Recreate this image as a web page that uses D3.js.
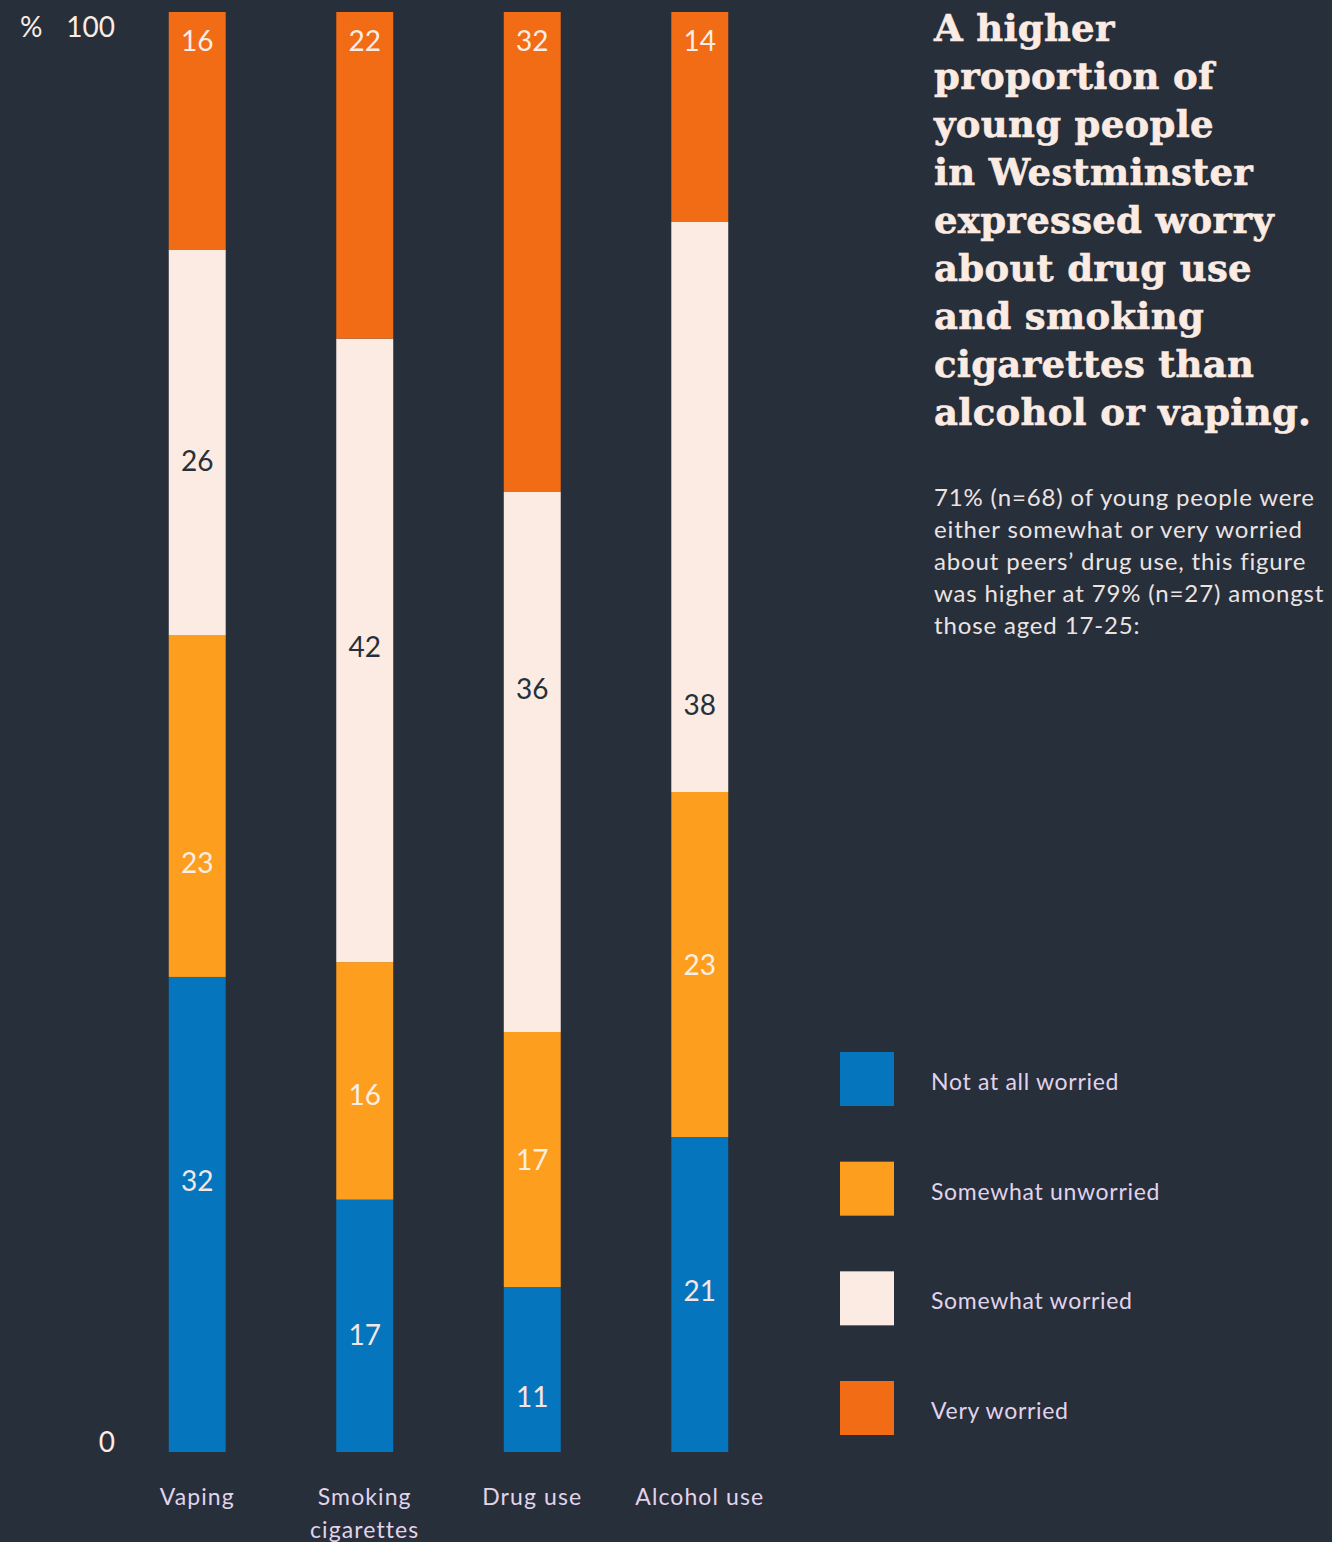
<!DOCTYPE html>
<html>
<head>
<meta charset="utf-8">
<script src="https://cdn.jsdelivr.net/npm/d3@7"></script>
<style>
  html, body { margin: 0; padding: 0; background: #262f3a; }
  svg { display: block; }
</style>
</head>
<body>
<svg id="chart" width="1332" height="1542"></svg>
<script>
// Survey responses (%), bottom segment first
const categories = ["Vaping", "Smoking cigarettes", "Drug use", "Alcohol use"];
const seriesNames = ["Not at all worried", "Somewhat unworried", "Somewhat worried", "Very worried"];
const notAtAllWorried   = [32, 17, 11, 21];
const somewhatUnworried = [23, 16, 17, 23];
const somewhatWorried   = [26, 42, 36, 38];
const veryWorried       = [16, 22, 32, 14];
// Where each value label sits, on the 0-100 axis
const labelAnchors = [
  [18.8, 40.9, 68.8, 98],
  [8.1, 24.8, 55.9, 98],
  [3.8, 20.3, 53.0, 98],
  [11.2, 33.8, 51.9, 98]
];
const yTicks = [0, 100];

const titleLines = [
  "A higher", "proportion of", "young people", "in Westminster",
  "expressed worry", "about drug use", "and smoking",
  "cigarettes than", "alcohol or vaping."
];
const bodyLines = [
  "71% (n=68) of young people were",
  "either somewhat or very worried",
  "about peers\u2019 drug use, this figure",
  "was higher at 79% (n=27) amongst",
  "those aged 17-25:"
];

const colors = ["#0576bd", "#fd9e1e", "#fbebe3", "#f26b15"];
const labelColors = ["#f3e6e6", "#fbeee6", "#262f3a", "#fbeee6"];
const cream = "#fbebe3";
const lavender = "#e2d3ec";
const sans = "Lato, 'Noto Sans', sans-serif";

const svg = d3.select("#chart");

const rows = categories.map((c, i) => ({
  category: c,
  [seriesNames[0]]: notAtAllWorried[i],
  [seriesNames[1]]: somewhatUnworried[i],
  [seriesNames[2]]: somewhatWorried[i],
  [seriesNames[3]]: veryWorried[i]
}));

const stack = d3.stack().keys(seriesNames).offset(d3.stackOffsetExpand);
const layers = stack(rows);

const x = d3.scaleBand().domain(categories).range([85, 812])
  .paddingInner(0.66).paddingOuter(0.5);
const y = d3.scaleLinear().domain([0, 1]).range([1452, 12]);
const yPct = d3.scaleLinear().domain([0, 100]).range([1452, 12]);

// Stacked bars
const g = svg.append("g");
layers.forEach((layer, si) => {
  g.selectAll(null).data(layer).join("rect")
    .attr("x", d => x(d.data.category))
    .attr("width", x.bandwidth())
    .attr("y", d => y(d[1]))
    .attr("height", d => y(d[0]) - y(d[1]))
    .attr("fill", colors[si]);
});

// Value labels
layers.forEach((layer, si) => {
  g.selectAll(null).data(layer).join("text")
    .attr("x", d => x(d.data.category) + x.bandwidth() / 2)
    .attr("y", (d, ci) => yPct(labelAnchors[ci][si]))
    .attr("dy", "0.36em")
    .attr("text-anchor", "middle")
    .attr("font-family", sans)
    .attr("font-size", 28)
    .attr("fill", labelColors[si])
    .text(d => d.data[seriesNames[si]]);
});

// Y axis
const yAxis = svg.append("g")
  .attr("transform", "translate(115,0)")
  .call(d3.axisLeft(y).tickValues(yTicks.map(v => v / 100))
    .tickFormat(d => d3.format("d")(d * 100)).tickSize(0).tickPadding(0));
yAxis.select(".domain").remove();
yAxis.selectAll("text")
  .attr("font-family", sans)
  .attr("font-size", 28)
  .attr("fill", cream)
  .attr("dy", d => d === 1 ? "0.88em" : "-0.02em");
svg.append("text")
  .attr("x", 20).attr("y", 37)
  .attr("font-family", sans).attr("font-size", 28).attr("fill", cream)
  .text("%");

// X axis labels
const xLab = svg.append("g");
categories.forEach(c => {
  const words = c === "Smoking cigarettes" ? ["Smoking", "cigarettes"] : [c];
  const t = xLab.append("text")
    .attr("x", x(c) + x.bandwidth() / 2)
    .attr("y", 1505)
    .attr("text-anchor", "middle")
    .attr("font-family", sans)
    .attr("font-size", 23)
    .attr("letter-spacing", 1.1)
    .attr("fill", lavender);
  words.forEach((w, i) => t.append("tspan")
    .attr("x", x(c) + x.bandwidth() / 2)
    .attr("dy", i === 0 ? 0 : 33)
    .text(w));
});

// Legend, top to bottom from "Not at all worried"
const legend = svg.append("g");
const legendY = d3.scalePoint().domain(seriesNames).range([1052, 1381]);
seriesNames.forEach((name, i) => {
  legend.append("rect")
    .attr("x", 840).attr("y", legendY(name))
    .attr("width", 54).attr("height", 54)
    .attr("fill", colors[i]);
  legend.append("text")
    .attr("x", 931).attr("y", legendY(name) + 30)
    .attr("dy", "0.35em")
    .attr("font-family", sans)
    .attr("font-size", 23)
    .attr("letter-spacing", 0.7)
    .attr("fill", lavender)
    .text(name);
});

// Headline
const title = svg.append("text")
  .attr("font-family", "'DejaVu Serif', serif")
  .attr("font-weight", "bold")
  .attr("font-size", 37)
  .attr("letter-spacing", 0.3)
  .attr("stroke", cream)
  .attr("stroke-width", 0.6)
  .attr("fill", cream);
titleLines.forEach((line, i) => title.append("tspan")
  .attr("x", 934).attr("y", 41 + i * 48).text(line));

// Body copy
const body = svg.append("text")
  .attr("font-family", sans)
  .attr("font-size", 24)
  .attr("letter-spacing", 0.85)
  .attr("fill", "#ece3e3");
bodyLines.forEach((line, i) => body.append("tspan")
  .attr("x", 934).attr("y", 506 + i * 32).text(line));
</script>
</body>
</html>
